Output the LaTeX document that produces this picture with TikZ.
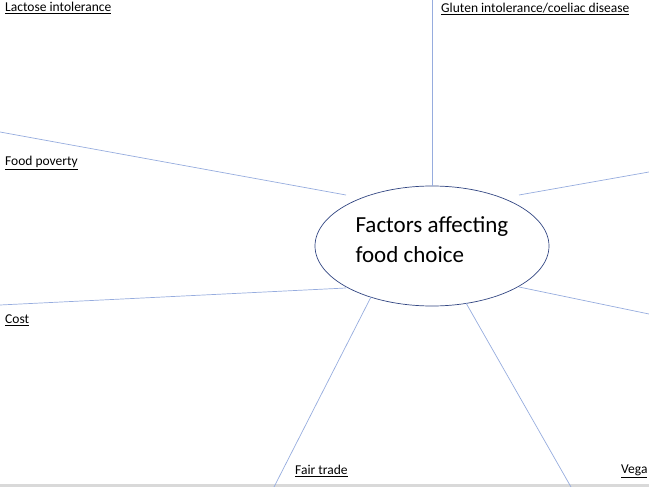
\documentclass[tikz,border=0pt]{standalone}
\usepackage{fontspec}
\setmainfont{Carlito}
\usetikzlibrary{shapes.geometric}
\definecolor{spk}{RGB}{150,172,222}
\definecolor{elb}{RGB}{50,70,130}
\begin{document}
\begin{tikzpicture}[x=1pt,y=-1pt,
  spoke/.style={draw=spk, line width=0.7pt},
  lab/.style={anchor=west, inner sep=0pt, font=\fontsize{13.5}{15}\selectfont}]
\useasboundingbox (0,0) rectangle (649,487);
\fill[gray!30] (0,484) rectangle (649,487);
\node[ellipse, draw=elb, line width=0.7pt, minimum width=234pt, minimum height=120pt, fill=white] (c) at (432,246) {};
\node[anchor=west, align=left, font=\fontsize{23}{30}\selectfont] (t) at (352,240) {Factors affecting\\food choice};
\coordinate (p1) at (432,0);
\coordinate (p2) at (0,132);
\coordinate (p3) at (649,172);
\coordinate (p4) at (0,305);
\coordinate (p5) at (649,314);
\coordinate (p6) at (274,487);
\coordinate (p7) at (571,487);
\draw[spoke] (p1) -- (c.north);
\draw[spoke] (p2) -- (346,195);
\draw[spoke] (p3) -- (519,195);
\draw[spoke] (p4) -- (346,288);
\draw[spoke] (p5) -- (519,287);
\draw[spoke] (p6) -- (371,297);
\draw[spoke] (p7) -- (466,303);
\node[lab] (l1) at (5,8) {\underline{Lactose intolerance}};
\node[lab] (l2) at (441,9) {\underline{Gluten intolerance/coeliac disease}};
\node[lab] (l3) at (5,163) {\underline{Food poverty}};
\node[lab] (l4) at (5,320) {\underline{Cost}};
\node[lab] (l5) at (295,471) {\underline{Fair trade}};
\node[lab] (l6) at (621,471) {\underline{Vega}};
\end{tikzpicture}
\end{document}
